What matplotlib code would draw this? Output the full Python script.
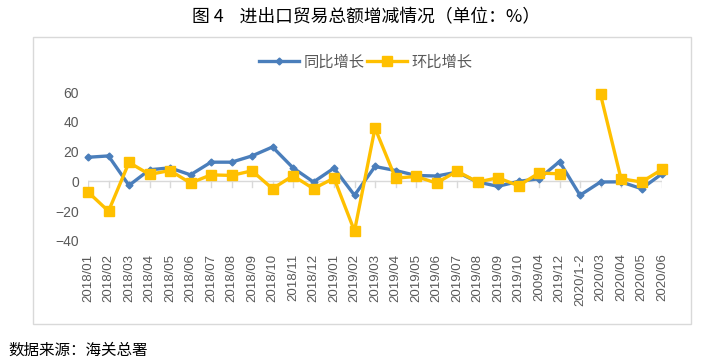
import numpy as np
import matplotlib.pyplot as plt
from matplotlib.patches import Rectangle

plt.rcParams['font.family'] = ['Noto Sans CJK SC', 'DejaVu Sans']

months = ["2018/01", "2018/02", "2018/03", "2018/04", "2018/05", "2018/06",
          "2018/07", "2018/08", "2018/09", "2018/10", "2018/11", "2018/12",
          "2019/01", "2019/02", "2019/03", "2019/04", "2019/05", "2019/06",
          "2019/07", "2019/08", "2019/09", "2019/10", "2009/04", "2019/12",
          "2020/1-2", "2020/03", "2020/04", "2020/05", "2020/06"]
yoy = [16.2, 17.1, -2.7, 7.8, 9.1, 4.4, 12.9, 12.9, 17.1, 23.1, 9.1, -0.4,
       8.9, -9.3, 10.0, 7.3, 4.0, 3.6, 6.2, -0.4, -3.3, 0.0, 1.8, 13.3,
       -9.3, -0.4, -0.3, -4.9, 5.1]
mom = [-7.1, -20.0, 12.7, 4.7, 7.3, -1.1, 4.4, 4.0, 7.1, -4.9, 3.8, -4.9,
       2.2, -33.3, 35.8, 2.2, 3.3, -1.1, 6.9, -0.4, 2.4, -2.9, 5.6, 5.1,
       np.nan, 58.4, 1.8, -0.4, 8.0]

blue = "#4A7EBB"
gold = "#FFC000"
grey = "#595959"

fig = plt.figure(figsize=(7.06, 3.64), dpi=100)
fig.patches.append(Rectangle((33 / 706, 1 - 324 / 364), 658 / 706, 287 / 364,
                             transform=fig.transFigure, fill=False,
                             edgecolor="#D9D9D9", linewidth=1))
ax = fig.add_axes([88 / 706, 1 - 241 / 364, 574 / 706, 149 / 364])

x = np.arange(len(months))
ax.plot(x, yoy, color=blue, lw=2.4, marker="D", ms=3.5, label="同比增长",
        clip_on=False, zorder=3)
ax.plot(x, mom, color=gold, lw=2.4, marker="s", ms=7, label="环比增长",
        clip_on=False, zorder=4)

ax.set_xlim(0, len(months) - 1)
ax.set_ylim(-40, 60)
ax.set_yticks([-40, -20, 0, 20, 40, 60])
for s in ax.spines.values():
    s.set_visible(False)
ax.axhline(0, color="#D9D9D9", lw=1, zorder=0)
# category tick marks on the zero line
for xi in x:
    ax.plot([xi, xi], [0, -4], color="#D9D9D9", lw=1, zorder=0)
ax.tick_params(axis="y", length=0, labelsize=10, labelcolor=grey, pad=6.5)
for t in ax.get_yticklabels():
    t.set_family(["Liberation Sans"])
ax.set_xticks(x)
ax.set_xticklabels(months, rotation=90, fontsize=9.5, color=grey,
                   family=["Liberation Sans"])
ax.tick_params(axis="x", length=0, pad=9)

ax.legend(loc="center", bbox_to_anchor=(0.484, 1.2), ncol=2, frameon=False,
          fontsize=11, labelcolor=grey, handlelength=2.6, columnspacing=0.2,
          handletextpad=0.3)

fig.text(366 / 706, 1 - 17 / 364, "图 4    进出口贸易总额增减情况（单位：%）",
         ha="center", va="center", fontsize=12.8, color="black")
fig.text(8 / 706, 1 - 350 / 364, "数据来源：海关总署", ha="left", va="center",
         fontsize=11.2, color="black")

fig.savefig("out.png", dpi=100)
